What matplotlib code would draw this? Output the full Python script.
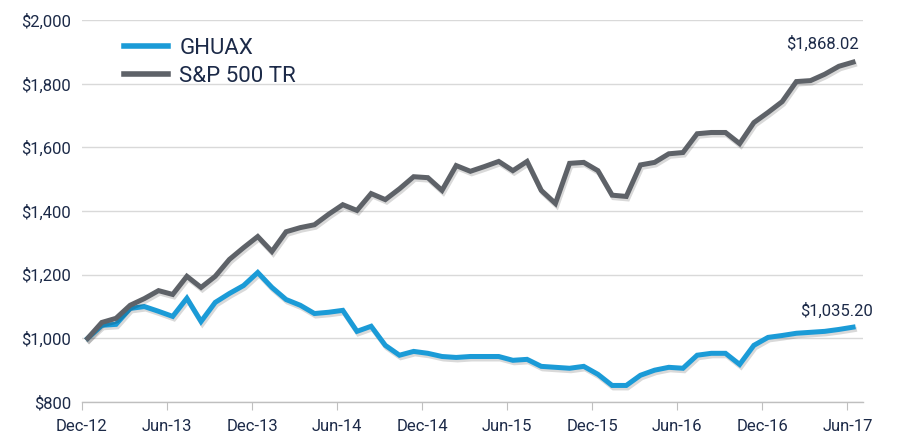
import matplotlib
matplotlib.use("Agg")
import matplotlib.pyplot as plt
import matplotlib.patheffects as pe
import numpy as np

plt.rcParams['font.family'] = ['Roboto', 'DejaVu Sans']

# Growth of $1,000, month-end values Dec-12 .. Jun-17
ghuax = [1000, 1041, 1044, 1094, 1100, 1085, 1069, 1126, 1053, 1113,
         1141, 1166, 1207, 1160, 1122, 1104, 1078, 1082, 1088, 1022,
         1038, 978, 947, 959, 953, 943, 940, 943, 943, 943,
         931, 934, 912, 909, 906, 912, 887, 852, 852, 884,
         900, 909, 906, 947, 953, 953, 918, 978, 1003, 1009,
         1016, 1019, 1022, 1028, 1035.20]
sp500 = [1000, 1050, 1063, 1104, 1125, 1150, 1138, 1195, 1160, 1195,
         1248, 1285, 1320, 1273, 1335, 1348, 1357, 1390, 1420, 1402,
         1455, 1436, 1470, 1508, 1505, 1465, 1543, 1525, 1540, 1556,
         1527, 1556, 1465, 1424, 1550, 1553, 1527, 1450, 1446, 1545,
         1553, 1580, 1584, 1643, 1647, 1647, 1612, 1678, 1710, 1744,
         1807, 1810, 1830, 1855, 1868.02]
tick_labels = ["Dec-12", "Jun-13", "Dec-13", "Jun-14", "Dec-14", "Jun-15",
               "Dec-15", "Jun-16", "Dec-16", "Jun-17"]

blue = '#1b9bd7'
gray = '#5e6268'
navy = '#1c2a48'

x = np.arange(len(ghuax)) + 0.4

fig = plt.figure(figsize=(8.98, 4.38), dpi=100)
ax = fig.add_axes([0.0913, 0.0822, 0.8697, 0.8718])

shadow = [pe.SimpleLineShadow(offset=(1, -1.8), alpha=0.15, shadow_color='k'), pe.Normal()]
ax.plot(x, ghuax, color=blue, lw=3.6, label='GHUAX', path_effects=shadow,
        solid_joinstyle='miter', zorder=3)
ax.plot(x, sp500, color=gray, lw=3.6, label='S&P 500 TR', path_effects=shadow,
        solid_joinstyle='miter', zorder=3)

ax.set_xlim(0, 55.1)
ax.set_ylim(800, 2000)
ax.set_yticks(np.arange(800, 2001, 200))
ax.set_yticklabels([f"${v:,.0f}" for v in np.arange(800, 2001, 200)])
ax.set_xticks(np.arange(0, 55, 6))
ax.set_xticklabels(tick_labels)

ax.grid(axis='y', color='#d9d9d9', lw=1)
ax.set_axisbelow(True)
for s in ['left', 'right', 'top']:
    ax.spines[s].set_visible(False)
ax.spines['bottom'].set_color('#bfbfbf')
ax.spines['bottom'].set_linewidth(1)
ax.tick_params(axis='y', length=0, pad=8, labelsize=12, labelcolor=navy)
ax.tick_params(axis='x', length=6, color='#bfbfbf', pad=6, labelsize=12, labelcolor=navy)

ax.annotate("$1,868.02", (x[-1], sp500[-1]), xytext=(6, 10), textcoords='offset pixels',
            ha='right', va='bottom', fontsize=12, color=navy)
ax.annotate("$1,035.20", (x[-1], ghuax[-1]), xytext=(20, 8), textcoords='offset pixels',
            ha='right', va='bottom', fontsize=12, color=navy)

leg = ax.legend(loc='upper left', bbox_to_anchor=(0.028, 1.005), frameon=False,
                fontsize=16, handlelength=2.0, handletextpad=0.5, labelspacing=0.3)
for t in leg.get_texts():
    t.set_color(navy)
for h in leg.get_lines():
    h.set_path_effects([])
    h.set_linewidth(4)

fig.savefig("out.png", dpi=100)
